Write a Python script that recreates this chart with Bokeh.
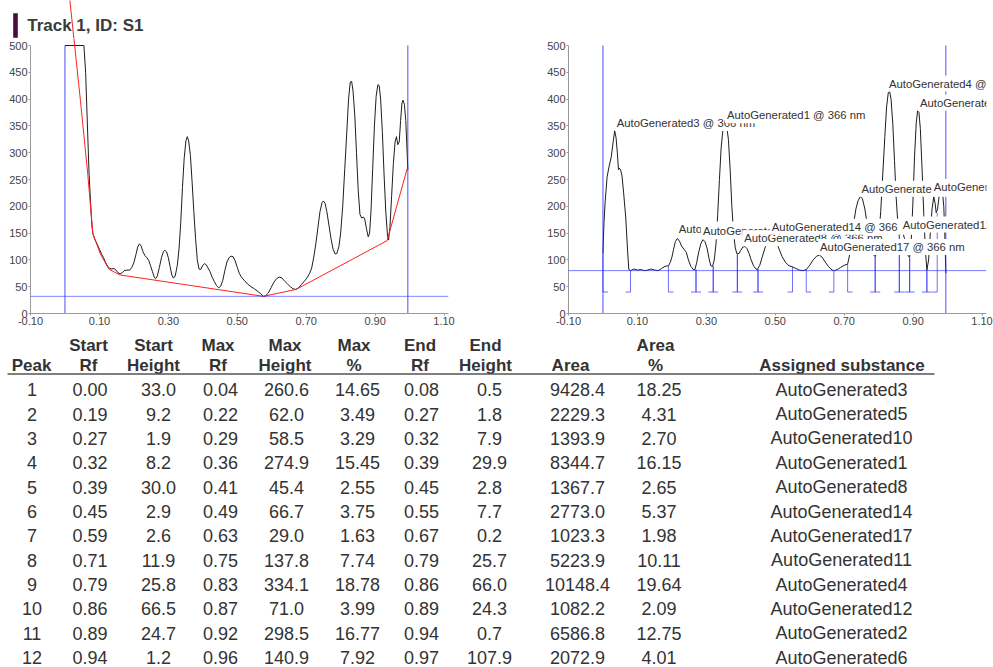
from bokeh.plotting import figure
from bokeh.layouts import column, row
from bokeh.models import (Range1d, FixedTicker, NumeralTickFormatter, Span, ColumnDataSource)
from bokeh.core.properties import value
from bokeh.embed import file_html
from bokeh.resources import INLINE

FONT = "Liberation Sans"

# ---------------- data ----------------
TITLE = "Track 1, ID: S1"
WAVELENGTH = "366 nm"

# raw densitogram (left)
raw_rf = [0.000, 0.055, 0.060, 0.066, 0.070, 0.074, 0.078, 0.081, 0.086, 0.093, 0.100, 0.107,
          0.112, 0.118, 0.124, 0.130, 0.136, 0.142, 0.148, 0.154, 0.160, 0.166, 0.172, 0.180,
          0.188, 0.194, 0.200, 0.206, 0.211, 0.216, 0.221, 0.226, 0.232, 0.238, 0.243, 0.248,
          0.254, 0.259, 0.263, 0.268, 0.274, 0.280, 0.286, 0.290, 0.295, 0.300, 0.305, 0.310,
          0.315, 0.320, 0.326, 0.331, 0.336, 0.341, 0.346, 0.351, 0.355, 0.359, 0.364, 0.369,
          0.374, 0.379, 0.384, 0.389, 0.394, 0.400, 0.405, 0.410, 0.415, 0.421, 0.427, 0.433,
          0.440, 0.446, 0.452, 0.458, 0.464, 0.470, 0.476, 0.482, 0.488, 0.494, 0.500, 0.506,
          0.512, 0.520, 0.530, 0.540, 0.550, 0.560, 0.568, 0.576, 0.582, 0.590, 0.598, 0.606,
          0.614, 0.622, 0.630, 0.638, 0.646, 0.654, 0.662, 0.670, 0.678, 0.686, 0.694, 0.702,
          0.710, 0.716, 0.722, 0.728, 0.734, 0.740, 0.746, 0.750, 0.755, 0.760, 0.766, 0.772,
          0.778, 0.784, 0.789, 0.795, 0.800, 0.806, 0.812, 0.818, 0.823, 0.828, 0.832, 0.836,
          0.841, 0.846, 0.851, 0.856, 0.861, 0.866, 0.870, 0.875, 0.880, 0.884, 0.888, 0.893,
          0.898, 0.903, 0.908, 0.912, 0.916, 0.921, 0.926, 0.931, 0.936, 0.939, 0.943, 0.948,
          0.953, 0.958, 0.962, 0.966, 0.970, 0.974, 0.978, 0.981, 0.985, 0.989, 0.993, 0.995]
raw_h = [500, 500, 450, 335, 260, 211, 165, 149, 139, 130, 120, 110,
         104, 95, 88, 84, 83, 84, 81, 76, 74, 76, 80, 81,
         81, 86, 95, 110, 124, 130, 126, 116, 108, 104, 99, 90,
         78, 68, 65, 70, 86, 104, 116, 118, 115, 104, 88, 72,
         66, 70, 90, 120, 170, 235, 290, 322, 330, 322, 295, 245,
         190, 140, 100, 83, 82, 90, 93, 91, 85, 78, 68, 60,
         52, 48, 51, 62, 80, 96, 104, 107, 106, 98, 86, 75,
         68, 62, 55, 50, 46, 41, 37, 32, 33, 38, 48, 58,
         65, 68, 66, 60, 55, 50, 46, 45, 48, 54, 60, 66,
         75, 85, 105, 130, 160, 190, 207, 210, 205, 190, 165, 140,
         120, 111, 112, 125, 150, 200, 270, 340, 400, 432, 433, 415,
         370, 300, 230, 185, 178, 180, 176, 158, 143, 150, 190, 270,
         350, 405, 427, 425, 400, 340, 260, 190, 145, 137, 160, 220,
         280, 320, 330, 315, 320, 360, 393, 398, 390, 360, 300, 268]

# baseline (left, red)
base_rf = [0.010, 0.045, 0.066, 0.081, 0.103, 0.127, 0.159, 0.576, 0.671, 0.935, 0.993]
base_h = [610, 397, 261, 149, 111, 83, 72, 32, 45, 136, 270]

# baseline-corrected trace (right)
corr_rf = [0.000, 0.003, 0.006, 0.012, 0.018, 0.024, 0.030, 0.034, 0.038, 0.042, 0.045, 0.048,
           0.051, 0.055, 0.060, 0.066, 0.071, 0.075, 0.080, 0.090, 0.100, 0.110, 0.120, 0.130,
           0.140, 0.150, 0.160, 0.170, 0.180, 0.190, 0.195, 0.200, 0.205, 0.210, 0.216, 0.222,
           0.228, 0.235, 0.242, 0.248, 0.255, 0.262, 0.267, 0.272, 0.278, 0.284, 0.290, 0.296,
           0.302, 0.308, 0.313, 0.318, 0.323, 0.328, 0.333, 0.338, 0.343, 0.348, 0.354, 0.359,
           0.364, 0.369, 0.374, 0.379, 0.384, 0.389, 0.395, 0.400, 0.406, 0.412, 0.418, 0.424,
           0.430, 0.437, 0.444, 0.448, 0.455, 0.462, 0.470, 0.478, 0.485, 0.490, 0.497, 0.504,
           0.510, 0.520, 0.530, 0.540, 0.550, 0.560, 0.570, 0.580, 0.590, 0.600, 0.610, 0.620,
           0.628, 0.636, 0.645, 0.655, 0.665, 0.672, 0.680, 0.690, 0.700, 0.710, 0.716, 0.722,
           0.728, 0.734, 0.740, 0.747, 0.753, 0.760, 0.766, 0.772, 0.778, 0.784, 0.790, 0.795,
           0.800, 0.806, 0.812, 0.818, 0.823, 0.828, 0.832, 0.836, 0.841, 0.846, 0.851, 0.856,
           0.860, 0.865, 0.870, 0.875, 0.880, 0.885, 0.890, 0.894, 0.899, 0.904, 0.909, 0.913,
           0.917, 0.921, 0.926, 0.931, 0.936, 0.940, 0.945, 0.950, 0.955, 0.960, 0.964, 0.967,
           0.971, 0.976, 0.981, 0.985, 0.989, 0.992, 0.994, 0.995]
corr_h = [113, 170, 205, 255, 275, 292, 322, 341, 328, 298, 268, 271,
          268, 258, 225, 180, 122, 82, 80, 83, 81, 82, 80, 81,
          83, 81, 80, 84, 88, 89, 95, 105, 120, 134, 140, 135,
          126, 120, 114, 100, 88, 82, 82, 95, 115, 130, 138, 134,
          122, 102, 89, 88, 100, 130, 185, 250, 310, 342, 355, 350,
          325, 270, 200, 150, 122, 111, 112, 118, 124, 125, 121, 112,
          100, 89, 83, 82, 90, 105, 122, 137, 145, 147, 143, 132,
          122, 106, 95, 89, 87, 84, 81, 80, 82, 90, 100, 107,
          109, 105, 96, 87, 81, 80, 82, 86, 90, 92, 110, 140,
          170, 195, 210, 218, 214, 195, 170, 145, 125, 110, 106, 115,
          140, 190, 260, 330, 385, 412, 414, 400, 355, 285, 215, 165,
          146, 150, 151, 140, 122, 108, 105, 130, 200, 290, 355, 378,
          375, 345, 270, 185, 115, 81, 100, 150, 195, 218, 205, 188,
          195, 222, 236, 228, 200, 150, 100, 75]

TRACK_START = 0.0
TRACK_END = 0.995
RAW_LEVEL = 32      # horizontal line, left plot
CORR_LEVEL = 80     # display offset / horizontal line, right plot
MARKER_FOOT = 40    # level of the integration marker feet
FOOT_LEN = 0.0145
Y_MAX = 500

# peak table
peak = [1, 2, 3, 4, 5, 6, 7, 8, 9, 10, 11, 12]
start_rf = [0.00, 0.19, 0.27, 0.32, 0.39, 0.45, 0.59, 0.71, 0.79, 0.86, 0.89, 0.94]
start_height = [33.0, 9.2, 1.9, 8.2, 30.0, 2.9, 2.6, 11.9, 25.8, 66.5, 24.7, 1.2]
max_rf = [0.04, 0.22, 0.29, 0.36, 0.41, 0.49, 0.63, 0.75, 0.83, 0.87, 0.92, 0.96]
max_height = [260.6, 62.0, 58.5, 274.9, 45.4, 66.7, 29.0, 137.8, 334.1, 71.0, 298.5, 140.9]
max_pct = [14.65, 3.49, 3.29, 15.45, 2.55, 3.75, 1.63, 7.74, 18.78, 3.99, 16.77, 7.92]
end_rf = [0.08, 0.27, 0.32, 0.39, 0.45, 0.55, 0.67, 0.79, 0.86, 0.89, 0.94, 0.97]
end_height = [0.5, 1.8, 7.9, 29.9, 2.8, 7.7, 0.2, 25.7, 66.0, 24.3, 0.7, 107.9]
area = [9428.4, 2229.3, 1393.9, 8344.7, 1367.7, 2773.0, 1023.3, 5223.9, 10148.4, 1082.2, 6586.8, 2072.9]
area_pct = [18.25, 4.31, 2.70, 16.15, 2.65, 5.37, 1.98, 10.11, 19.64, 2.09, 12.75, 4.01]
substance = ["AutoGenerated3", "AutoGenerated5", "AutoGenerated10", "AutoGenerated1",
             "AutoGenerated8", "AutoGenerated14", "AutoGenerated17", "AutoGenerated11",
             "AutoGenerated4", "AutoGenerated12", "AutoGenerated2", "AutoGenerated6"]

X_TICKS = [-0.10, 0.10, 0.30, 0.50, 0.70, 0.90, 1.10]
Y_TICKS = [0, 50, 100, 150, 200, 250, 300, 350, 400, 450, 500]

AXIS_COLOR = "#9a9a9a"
TEXT_COLOR = "#3a3a3a"
BLUE = "#2222ff"

# shared scale geometry (pixels)
X_LO, X_HI = -0.1, 1.113
FRAME_W = 418
PX_PER_RF = FRAME_W / (X_HI - X_LO)
Y_TOP = 513.06          # value at the top of the plot frames
HEADER_H = 38
PLOT_H = 292
PX_PER_Y = (PLOT_H - 17) / Y_TOP


def style(p):
    p.xaxis.ticker = FixedTicker(ticks=X_TICKS)
    p.xaxis.formatter = NumeralTickFormatter(format="0.00")
    p.yaxis.ticker = FixedTicker(ticks=Y_TICKS)
    p.yaxis.bounds = (0, Y_MAX)
    p.axis.axis_line_color = AXIS_COLOR
    p.axis.major_tick_line_color = AXIS_COLOR
    p.axis.major_tick_out = 2
    p.axis.major_tick_in = 0
    p.axis.minor_tick_line_color = None
    p.axis.major_label_standoff = 1
    p.axis.major_label_text_font = FONT
    p.axis.major_label_text_font_size = "11px"
    p.axis.major_label_text_color = "#444444"
    p.xgrid.visible = False
    p.ygrid.visible = False
    p.outline_line_color = None


# ---------------- header strip (title) ----------------
# same Rf / height scale as the left plot, continued upward
hx0 = X_LO - 30 / PX_PER_RF
hx1 = X_LO + (993 - 30) / PX_PER_RF
header = figure(width=993, height=HEADER_H,
                x_range=Range1d(hx0, hx1),
                y_range=Range1d(Y_TOP, Y_TOP + HEADER_H / PX_PER_Y),
                output_backend="svg", toolbar_location=None, min_border=0,
                x_axis_type=None, y_axis_type=None)
header.outline_line_color = None
header.xgrid.visible = False
header.ygrid.visible = False
header.line(base_rf, base_h, line_color="#ff2020", line_width=1)
bar_l = X_LO - 17.3 / PX_PER_RF
bar_r = X_LO - 12.7 / PX_PER_RF
bar_b = Y_TOP + 0.7 / PX_PER_Y
bar_t = Y_TOP + 25.3 / PX_PER_Y
header.quad(left=[bar_l], right=[bar_r], bottom=[bar_b], top=[bar_t],
            fill_color="#4b0b3c", line_color=None)
header.text(x=[X_LO - 3.3 / PX_PER_RF], y=[Y_TOP + 13.5 / PX_PER_Y], text=[TITLE],
            text_font=value(FONT), text_font_size="17px", text_font_style="bold",
            text_color=TEXT_COLOR, text_align="left", text_baseline="middle")

# ---------------- left: raw scan ----------------
left = figure(width=540, height=PLOT_H, x_range=Range1d(X_LO, X_HI), y_range=Range1d(0, Y_TOP),
              output_backend="svg", toolbar_location=None,
              min_border_left=30, min_border_right=92, min_border_top=0, min_border_bottom=17)
style(left)
left.line(raw_rf, raw_h, line_color="#1e1e1e", line_width=1)
left.line(base_rf, base_h, line_color="#ff2020", line_width=1)
left.add_layout(Span(location=RAW_LEVEL, dimension="width", line_color=BLUE, line_alpha=0.55, line_width=1))
left.segment(x0=[TRACK_START, TRACK_END], y0=[0, 0], x1=[TRACK_START, TRACK_END], y1=[Y_MAX, Y_MAX],
             line_color=BLUE, line_alpha=0.8, line_width=1)

# ---------------- right: corrected scan with peaks ----------------
right = figure(width=453, height=PLOT_H, x_range=Range1d(X_LO, X_HI), y_range=Range1d(0, Y_TOP),
               output_backend="svg", toolbar_location=None,
               min_border_left=28, min_border_right=7, min_border_top=0, min_border_bottom=17)
style(right)
right.line(corr_rf, corr_h, line_color="#1e1e1e", line_width=1)
right.add_layout(Span(location=CORR_LEVEL, dimension="width", line_color=BLUE, line_alpha=0.6, line_width=1))
right.segment(x0=[TRACK_START, TRACK_END], y0=[0, 0], x1=[TRACK_START, TRACK_END], y1=[Y_MAX, Y_MAX],
              line_color=BLUE, line_alpha=0.8, line_width=1)

mk_x = start_rf + end_rf
mk_top = [h + CORR_LEVEL for h in start_height] + [h + CORR_LEVEL for h in end_height]
mk_foot = [x + FOOT_LEN for x in start_rf] + [x - FOOT_LEN for x in end_rf]
n_mk = len(mk_x)
right.segment(x0=mk_x, y0=[MARKER_FOOT] * n_mk, x1=mk_x, y1=mk_top,
              line_color=BLUE, line_alpha=0.65, line_width=1)
right.segment(x0=mk_x, y0=[MARKER_FOOT] * n_mk, x1=mk_foot, y1=[MARKER_FOOT] * n_mk,
              line_color=BLUE, line_alpha=0.65, line_width=1)

lab_src = ColumnDataSource(dict(
    x=max_rf,
    y=[h + CORR_LEVEL for h in max_height],
    text=[f"{s} @ {WAVELENGTH}" for s in substance],
))
right.text(x="x", y="y", text="text", source=lab_src, text_font=value(FONT),
           text_font_size="11.3px", text_color="#333333", text_align="left",
           text_baseline="bottom", background_fill_color="white", padding=2, x_offset=-2)

# ---------------- table ----------------
ROW1_PX = 59.3          # centre of row 1, from the top of the table strip
ROW_STEP = 24.34        # px between rows
TBL_H = 337
tbl = figure(width=993, height=TBL_H, x_range=Range1d(0, 993),
             y_range=Range1d(1 + (TBL_H - ROW1_PX) / ROW_STEP, 1 - ROW1_PX / ROW_STEP),
             output_backend="svg", toolbar_location=None, min_border=0,
             x_axis_type=None, y_axis_type=None)
tbl.outline_line_color = None
tbl.xgrid.visible = False
tbl.ygrid.visible = False

columns = [
    ("", "Peak", 31, 31.5, [str(v) for v in peak]),
    ("Start", "Rf", 88, 89.5, [f"{v:.2f}" for v in start_rf]),
    ("Start", "Height", 153, 158, [f"{v:.1f}" for v in start_height]),
    ("Max", "Rf", 217.5, 220, [f"{v:.2f}" for v in max_rf]),
    ("Max", "Height", 284.5, 286, [f"{v:.1f}" for v in max_height]),
    ("Max", "%", 353.5, 357, [f"{v:.2f}" for v in max_pct]),
    ("End", "Rf", 419.5, 421, [f"{v:.2f}" for v in end_rf]),
    ("End", "Height", 485, 489, [f"{v:.1f}" for v in end_height]),
    ("", "Area", 570, 577, [f"{v:.1f}" for v in area]),
    ("Area", "%", 655, 658.5, [f"{v:.2f}" for v in area_pct]),
    ("", "Assigned substance", 841.5, 841, substance),
]

h1x, h1t, h2x, h2t = [], [], [], []
for top, bottom, hx, vx, strings in columns:
    if top:
        h1x.append(hx)
        h1t.append(top)
    h2x.append(hx)
    h2t.append(bottom)
    tbl.text(x=[vx] * len(peak), y=peak, text=strings, text_font=value(FONT),
             text_font_size="18px", text_color="#333333", text_align="center",
             text_baseline="middle")

HEAD1_Y = 1 + (15.4 - ROW1_PX) / ROW_STEP
HEAD2_Y = 1 + (34.5 - ROW1_PX) / ROW_STEP
RULE_Y = 1 + (43.5 - ROW1_PX) / ROW_STEP
tbl.text(x=h1x, y=[HEAD1_Y] * len(h1x), text=h1t, text_font=value(FONT), text_font_size="17px",
         text_font_style="bold", text_color="#333333", text_align="center",
         text_baseline="middle")
tbl.text(x=h2x, y=[HEAD2_Y] * len(h2x), text=h2t, text_font=value(FONT), text_font_size="17px",
         text_font_style="bold", text_color="#333333", text_align="center",
         text_baseline="middle")
tbl.line(x=[7, 934], y=[RULE_Y, RULE_Y], line_color="#555555", line_width=1.5)

layout = column(header, row(left, right), tbl)
open("out.html", "w").write(file_html(layout, INLINE))
